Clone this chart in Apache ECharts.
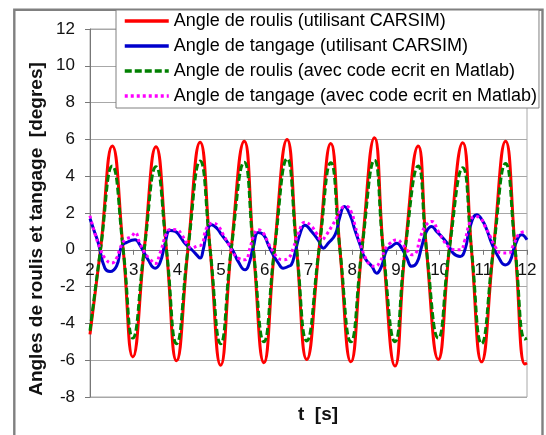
<!DOCTYPE html>
<html>
<head>
<meta charset="utf-8">
<script src="https://cdn.jsdelivr.net/npm/echarts@6/dist/echarts.min.js"></script>
<style>
  html, body { margin: 0; padding: 0; background: #fff; }
  #main { width: 546px; height: 435px; }
</style>
</head>
<body>
<div id="main"></div>
<script>
// noms des courbes (legende)
var seriesNames = [
  'Angle de roulis (utilisant CARSIM)',
  'Angle de tangage (utilisant CARSIM)',
  'Angle de roulis (avec code ecrit en Matlab)',
  'Angle de tangage (avec code ecrit en Matlab)'
]

// axe x : t [s]
var xMin = 2, xMax = 12, xStep = 1
// axe y : degres
var yMin = -8, yMax = 12, yStep = 2

// roulis CARSIM : [t, angle]
var rollCarsim = [
  [2.0, -4.6], [2.24, 0], [2.51, 5.64], [2.76, 0], [2.98, -5.82],
  [3.24, 0], [3.51, 5.6], [3.75, 0], [3.98, -6.03],
  [4.24, 0], [4.52, 5.85], [4.75, 0], [4.99, -6.27],
  [5.23, 0], [5.53, 5.9], [5.74, 0], [5.98, -6.14],
  [6.22, 0], [6.51, 6.0], [6.73, 0], [6.96, -5.96],
  [7.24, 0], [7.51, 5.78], [7.72, 0], [7.97, -6.09],
  [8.22, 0], [8.51, 6.09], [8.71, 0], [8.98, -6.32],
  [9.21, 0], [9.51, 5.64], [9.70, 0], [9.97, -5.96],
  [10.22, 0], [10.53, 5.82], [10.73, 0], [10.96, -6.09],
  [11.23, 0], [11.51, 5.9], [11.73, 0], [11.95, -6.21], [12.0, -6.15]
]

// tangage CARSIM
var pitchCarsim = [
  [2.0, 1.7], [2.1, 1.0], [2.19, 0.36], [2.34, -1.0], [2.46, -1.18], [2.61, -0.87],
  [2.72, 0.18], [2.84, 0.4], [3.03, 0.54], [3.14, 0.27], [3.33, -0.54], [3.49, -1.0],
  [3.6, -0.72], [3.72, 0.36], [3.83, 1.05], [3.95, 1.0], [4.06, 0.72], [4.17, 0.36],
  [4.33, 0.0], [4.45, -0.3], [4.52, -0.45], [4.59, 0.0], [4.67, 0.9], [4.78, 1.36],
  [4.9, 1.18], [5.01, 0.82], [5.16, 0.36], [5.28, -0.09], [5.39, -0.63], [5.55, -1.09],
  [5.62, -0.9], [5.74, 0.18], [5.85, 0.94], [5.97, 0.82], [6.08, 0.27], [6.19, -0.27],
  [6.31, -0.72], [6.42, -1.0], [6.54, -0.9], [6.61, -0.8], [6.69, -0.18], [6.81, 0.9],
  [6.92, 1.33], [7.07, 1.0], [7.22, 0.54], [7.34, 0.09], [7.45, 0.36], [7.61, 0.82],
  [7.72, 1.81], [7.82, 2.36], [7.95, 1.9], [8.06, 1.09], [8.18, 0.27], [8.29, -0.45],
  [8.45, -0.9], [8.56, -1.27], [8.67, -0.9], [8.79, 0.0], [8.9, 0.18], [9.02, 0.36],
  [9.13, 0.09], [9.25, -0.45], [9.36, -0.9], [9.48, -0.7], [9.59, 0.18], [9.7, 1.0],
  [9.82, 1.27], [9.93, 1.0], [10.08, 0.63], [10.2, 0.27], [10.31, -0.18], [10.47, -0.36],
  [10.58, 0.0], [10.7, 1.27], [10.85, 1.9], [10.97, 1.63], [11.08, 1.09], [11.19, 0.36],
  [11.34, -0.36], [11.5, -0.82], [11.61, -0.63], [11.73, 0.27], [11.88, 0.82], [12.0, 0.54]
]

// roulis Matlab
var rollMatlab = [
  [2.0, -4.4], [2.24, 0], [2.51, 4.55], [2.76, 0], [2.98, -4.8],
  [3.24, 0], [3.51, 4.51], [3.75, 0], [3.98, -5.1],
  [4.24, 0], [4.52, 4.82], [4.75, 0], [4.99, -5.1],
  [5.23, 0], [5.53, 4.76], [5.74, 0], [5.98, -5.0],
  [6.22, 0], [6.51, 4.95], [6.73, 0], [6.96, -4.95],
  [7.24, 0], [7.51, 4.73], [7.72, 0], [7.97, -5.0],
  [8.22, 0], [8.51, 4.87], [8.71, 0], [8.98, -5.0],
  [9.21, 0], [9.51, 4.55], [9.70, 0], [9.97, -4.8],
  [10.22, 0], [10.53, 4.46], [10.73, 0], [10.96, -5.1],
  [11.23, 0], [11.51, 4.69], [11.73, 0], [11.95, -4.85], [12.0, -4.8]
]

// tangage Matlab
var pitchMatlab = [
  [2.0, 1.85], [2.11, 0.9], [2.23, 0.09], [2.34, -0.45], [2.5, -0.72], [2.61, -0.45],
  [2.69, 0.09], [2.8, 0.54], [2.95, 0.72], [3.03, 0.94], [3.14, 0.36], [3.26, -0.18],
  [3.37, -0.5], [3.49, -0.75], [3.6, -0.2], [3.75, 0.9], [3.83, 1.1], [3.98, 1.09],
  [4.1, 0.82], [4.21, 0.36], [4.33, 0.1], [4.45, 0.2], [4.55, 0.27], [4.67, 1.18],
  [4.82, 1.45], [4.94, 1.27], [5.05, 0.82], [5.16, 0.36], [5.28, -0.18], [5.39, -0.45],
  [5.55, -0.54], [5.66, 0.09], [5.74, 0.72], [5.85, 1.09], [5.97, 0.9], [6.08, 0.36],
  [6.19, -0.09], [6.31, -0.45], [6.42, -0.54], [6.54, -0.45], [6.65, 0.09], [6.77, 0.9],
  [6.92, 1.5], [7.07, 1.27], [7.18, 0.9], [7.3, 0.54], [7.41, 0.82], [7.53, 1.27],
  [7.64, 1.72], [7.76, 2.27], [7.87, 2.36], [7.99, 2.0], [8.06, 1.36], [8.18, 0.36],
  [8.29, -0.36], [8.41, -0.82], [8.52, -0.9], [8.64, -0.63], [8.75, 0.0], [8.87, 0.36],
  [9.02, 0.54], [9.13, 0.36], [9.25, 0.0], [9.36, -0.27], [9.45, -0.2], [9.55, 0.6],
  [9.67, 1.27], [9.82, 1.54], [9.97, 1.0], [10.08, 0.54], [10.2, 0.18], [10.35, 0.0],
  [10.47, 0.0], [10.58, 0.54], [10.7, 1.54], [10.81, 1.81], [10.93, 1.72], [11.04, 1.27],
  [11.16, 0.72], [11.27, 0.18], [11.42, -0.18], [11.58, -0.18], [11.69, 0.27], [11.84, 0.9],
  [12.0, 1.0]
]

var FONT = '"Liberation Sans", Arial, sans-serif'

// zone de trace (px)
var gridTop = 29, gridBottom = 38
var plotH = 435 - gridTop - gridBottom
// l'axe des t passe par y = 0
var xAxisOffset = -plotH * (0 - yMin) / (yMax - yMin)

var chart = echarts.init(document.getElementById('main'), null, { renderer: 'canvas' })

var option = {
  backgroundColor: '#ffffff',
  animation: false,
  grid: {
    left: 90, right: 19, top: gridTop, bottom: gridBottom,
    show: true,
    borderColor: '#a8a8a8',
    borderWidth: 1
  },
  legend: {
    orient: 'vertical',
    left: 116,
    top: 10,
    padding: [2, 2, 3, 7],
    itemGap: 7,
    itemWidth: 44,
    itemHeight: 14,
    backgroundColor: '#ffffff',
    borderColor: '#808080',
    borderWidth: 1,
    selectedMode: false,
    itemStyle: { opacity: 0 },
    lineStyle: { width: 3.5 },
    textStyle: { fontFamily: FONT, fontSize: 18, color: '#000' },
    data: seriesNames
  },
  xAxis: {
    type: 'value',
    min: xMin, max: xMax, interval: xStep,
    offset: xAxisOffset,
    axisLine: { onZero: false, lineStyle: { color: '#777', width: 1 } },
    axisTick: { show: true, length: 5, lineStyle: { color: '#777' } },
    axisLabel: { fontFamily: FONT, fontSize: 17, color: '#111', margin: 12, showMinLabel: true, showMaxLabel: true },
    splitLine: { show: false }
  },
  yAxis: {
    type: 'value',
    min: yMin, max: yMax, interval: yStep,
    axisLine: { show: true, lineStyle: { color: '#777', width: 1 } },
    axisTick: { show: true, length: 5, lineStyle: { color: '#777' } },
    axisLabel: { fontFamily: FONT, fontSize: 17, color: '#111', margin: 15 },
    splitLine: { show: true, lineStyle: { color: '#a8a8a8', width: 1 } }
  },
  graphic: [
    // cadre exterieur
    {
      type: 'rect', z: -1, silent: true,
      shape: { x: 14.3, y: 9.8, width: 528.2, height: 460 },
      style: { fill: null, stroke: '#808080', lineWidth: 2.4 }
    },
    // titre axe y
    {
      type: 'text', x: 37, y: 229, rotation: Math.PI / 2,
      style: {
        text: 'Angles de roulis et tangage  [degres]',
        font: 'bold 19px ' + FONT, fill: '#111',
        align: 'center', verticalAlign: 'middle'
      }
    },
    // titre axe x
    {
      type: 'text', x: 318, y: 415,
      style: {
        text: 't  [s]',
        font: 'bold 19px ' + FONT, fill: '#111',
        align: 'center', verticalAlign: 'middle'
      }
    }
  ],
  series: [
    {
      name: seriesNames[0], type: 'line', data: rollCarsim,
      smooth: true, symbol: 'none',
      lineStyle: { color: '#ff0000', width: 3 }, itemStyle: { color: '#ff0000' }
    },
    {
      name: seriesNames[1], type: 'line', data: pitchCarsim,
      smooth: true, symbol: 'none',
      lineStyle: { color: '#0000cc', width: 3 }, itemStyle: { color: '#0000cc' }
    },
    {
      name: seriesNames[2], type: 'line', data: rollMatlab,
      smooth: true, symbol: 'none',
      lineStyle: { color: '#008000', width: 3, type: [7, 3] }, itemStyle: { color: '#008000' }
    },
    {
      name: seriesNames[3], type: 'line', data: pitchMatlab,
      smooth: true, symbol: 'none',
      lineStyle: { color: '#ff00ff', width: 3, type: [3, 3] }, itemStyle: { color: '#ff00ff' }
    }
  ]
}

chart.setOption(option)
</script>
</body>
</html>
